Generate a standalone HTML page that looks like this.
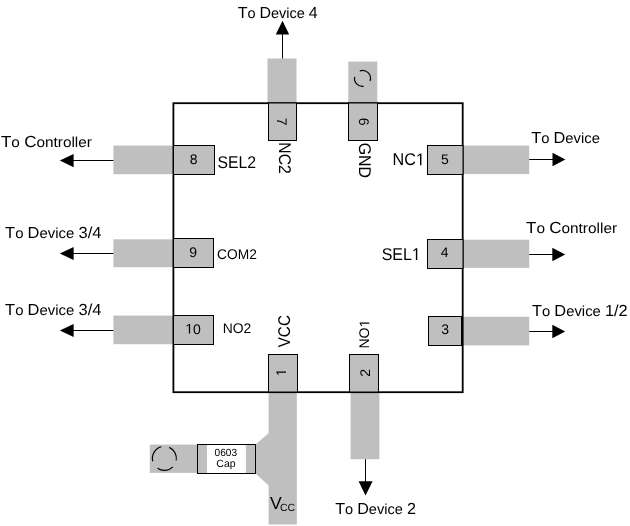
<!DOCTYPE html>
<html><head><meta charset="utf-8">
<style>
html,body{margin:0;padding:0;background:#fff;width:630px;height:526px;overflow:hidden}
svg{display:block;will-change:transform}
text{font-family:"Liberation Sans",sans-serif;fill:#000;text-rendering:geometricPrecision}
</style></head>
<body>
<svg width="630" height="526" viewBox="0 0 630 526">

<g fill="#bfbfbf">
<rect x="113.4" y="145.6" width="59.6" height="28.6"/>
<rect x="113.4" y="239.3" width="59.6" height="27.9"/>
<rect x="113.4" y="315.6" width="59.6" height="28.6"/>
<rect x="463" y="145.6" width="66.2" height="28.5"/>
<rect x="463" y="239.7" width="66.2" height="28.2"/>
<rect x="463" y="316.8" width="66.2" height="28.6"/>
<rect x="267.5" y="58.5" width="29" height="44.5"/>
<rect x="348.3" y="61.6" width="29" height="41.4"/>
<rect x="350.6" y="392" width="28.8" height="67.2"/>
<path d="M268.6 392H296.8V524.6H268.6V485.6L255.5 473.4V444.5L268.6 433.2Z"/>
<rect x="149.8" y="444.6" width="47.7" height="28.3"/>
</g>
<rect x="173.4" y="103.2" width="289.3" height="289" fill="none" stroke="#000" stroke-width="1.8"/>
<g fill="#bfbfbf" stroke="#000" stroke-width="1">
<rect x="173.5" y="145.5" width="41" height="29"/>
<rect x="173.5" y="238.5" width="40" height="29"/>
<rect x="173.5" y="315.5" width="40" height="29"/>
<rect x="427.5" y="145.5" width="35.5" height="29"/>
<rect x="427.5" y="239.5" width="35.5" height="29"/>
<rect x="428.5" y="316.5" width="33" height="29"/>
<rect x="268.5" y="103" width="28" height="37.5"/>
<rect x="348.5" y="103" width="29" height="37.5"/>
<rect x="268.5" y="354.5" width="29" height="37.5"/>
<rect x="349.5" y="354.5" width="29" height="37.5"/>
<rect x="197.5" y="444.5" width="58" height="29"/>
</g>
<rect x="207" y="445" width="38.9" height="28" fill="#fff"/>
<g stroke="#000" stroke-width="1" fill="none">
<path d="M73 160.5H113.4M73 253.5H113.4M73 330.5H113.4M529.2 159.5H553M529.2 254.5H553M529.2 331.5H553M282.5 34V58.5M365.5 459.2V482"/>
</g>
<g fill="#000">
<polygon points="59.8,160.5 73.6,153.9 73.6,167.2"/>
<polygon points="59.8,253.5 73.6,246.9 73.6,260.1"/>
<polygon points="59.8,330.5 73.6,323.9 73.6,337.1"/>
<polygon points="565.4,159.5 552.5,152.8 552.5,166.2"/>
<polygon points="565.2,254.5 552.3,247.8 552.3,261.2"/>
<polygon points="565.2,331.5 552.3,324.8 552.3,338.2"/>
<polygon points="282.5,20.7 275.8,34.4 289.2,34.4"/>
<polygon points="365.5,495.4 358.6,481.3 372.6,481.3"/>
</g>
<g stroke="#000" stroke-width="1.2" fill="none">
<path d="M359.76 70.88A8 8 0 0 1 370.06 81.00M363.61 86.32A8 8 0 0 1 354.65 76.87"/>
<path d="M152.78 461.40A12 12 0 0 1 161.35 446.79M169.20 447.40A12 12 0 0 1 176.24 460.38M172.89 466.89A12 12 0 0 1 157.52 468.23"/>
</g>

<g>
<text transform="translate(0.92,147.40) scale(1.0609,1)" font-size="15" xml:space="preserve"><tspan font-size="16">T</tspan><tspan font-size="14.5">o </tspan><tspan font-size="16">C</tspan><tspan font-size="14.5">ontroller</tspan></text>
<text transform="translate(5.12,237.80) scale(1.0286,1)" font-size="15" xml:space="preserve"><tspan font-size="16">T</tspan><tspan font-size="14.5">o </tspan><tspan font-size="16">D</tspan><tspan font-size="14.5">evice </tspan><tspan font-size="16">3/4</tspan></text>
<text transform="translate(5.12,314.80) scale(1.0286,1)" font-size="15" xml:space="preserve"><tspan font-size="16">T</tspan><tspan font-size="14.5">o </tspan><tspan font-size="16">D</tspan><tspan font-size="14.5">evice </tspan><tspan font-size="16">3/4</tspan></text>
<text transform="translate(531.20,142.80) scale(1.0206,1)" font-size="15" xml:space="preserve"><tspan font-size="16">T</tspan><tspan font-size="14.5">o </tspan><tspan font-size="16">D</tspan><tspan font-size="14.5">evice</tspan></text>
<text transform="translate(526.00,233.30) scale(1.0610,1)" font-size="15" xml:space="preserve"><tspan font-size="16">T</tspan><tspan font-size="14.5">o </tspan><tspan font-size="16">C</tspan><tspan font-size="14.5">ontroller</tspan></text>
<text transform="translate(532.00,315.90) scale(1.0222,1)" font-size="15" xml:space="preserve"><tspan font-size="16">T</tspan><tspan font-size="14.5">o </tspan><tspan font-size="16">D</tspan><tspan font-size="14.5">evice </tspan><tspan font-size="16">1/2</tspan></text>
<text transform="translate(237.64,17.50) scale(0.9986,1)" font-size="15" xml:space="preserve"><tspan font-size="16">T</tspan><tspan font-size="14.5">o </tspan><tspan font-size="16">D</tspan><tspan font-size="14.5">evice </tspan><tspan font-size="16">4</tspan></text>
<text transform="translate(335.16,513.70) scale(1.0077,1)" font-size="15" xml:space="preserve"><tspan font-size="16">T</tspan><tspan font-size="14.5">o </tspan><tspan font-size="16">D</tspan><tspan font-size="14.5">evice </tspan><tspan font-size="16">2</tspan></text>
<text transform="translate(217.56,168.00) scale(0.9274,1)" font-size="17">SEL2</text>
<text transform="translate(217.08,258.52) scale(0.9832,1)" font-size="14">COM2</text>
<text transform="translate(222.68,333.18) scale(0.9928,1)" font-size="14">NO2</text>
<g transform="translate(392.60,165.24) scale(0.9501,1)"><text x="0.000" y="0" font-size="17">NC</text><path transform="translate(24.554,0) scale(0.008301,-0.008301)" d="M515 0H696V1409H530L197 1180V1010L515 1237Z"/></g>
<g transform="translate(381.64,260.00) scale(0.9401,1)"><text x="0.000" y="0" font-size="17">SEL</text><path transform="translate(32.132,0) scale(0.008301,-0.008301)" d="M515 0H696V1409H530L197 1180V1010L515 1237Z"/></g>
<text transform="translate(279.00,142.28) rotate(90) scale(0.9270,1)" font-size="17">NC2</text>
<text transform="translate(358.66,142.64) rotate(90) scale(0.9333,1)" font-size="17">GND</text>
<text transform="translate(290.24,347.32) rotate(-90) scale(0.8976,1)" font-size="17">VCC</text>
<g transform="translate(369.34,348.60) rotate(-90) scale(1.0098,1)"><text x="0.000" y="0" font-size="14">NO</text><path transform="translate(21.000,0) scale(0.006836,-0.006836)" d="M515 0H696V1409H530L197 1180V1010L515 1237Z"/></g>
<text transform="translate(193.76,163.58)" font-size="14" text-anchor="middle">8</text>
<text transform="translate(193.24,256.58)" font-size="14" text-anchor="middle">9</text>
<g transform="translate(193.12,333.58)"><path transform="translate(-7.786,0) scale(0.006836,-0.006836)" d="M515 0H696V1409H530L197 1180V1010L515 1237Z"/><text x="0.000" y="0" font-size="14">0</text></g>
<text transform="translate(444.84,164.06)" font-size="14" text-anchor="middle">5</text>
<text transform="translate(444.72,257.46)" font-size="14" text-anchor="middle">4</text>
<text transform="translate(445.06,334.00)" font-size="14" text-anchor="middle">3</text>
<text transform="translate(277.28,121.56) rotate(90)" font-size="14" text-anchor="middle">7</text>
<text transform="translate(358.64,121.56) rotate(90)" font-size="14" text-anchor="middle">6</text>
<g transform="translate(286.00,372.32) rotate(-90)"><path transform="translate(-3.893,0) scale(0.006836,-0.006836)" d="M515 0H696V1409H530L197 1180V1010L515 1237Z"/></g>
<text transform="translate(369.80,372.88) rotate(-90)" font-size="14" text-anchor="middle">2</text>
<text transform="translate(225.78,455.64) scale(0.9646,1)" font-size="10.5" text-anchor="middle">0603</text>
<text transform="translate(225.92,467.26)" font-size="10.5" text-anchor="middle">Cap</text>
<text transform="translate(269.92,509.36)" font-size="17.6">V</text>
<text transform="translate(280.00,510.68)" font-size="10.5">CC</text>
</g>
</svg>
</body></html>
